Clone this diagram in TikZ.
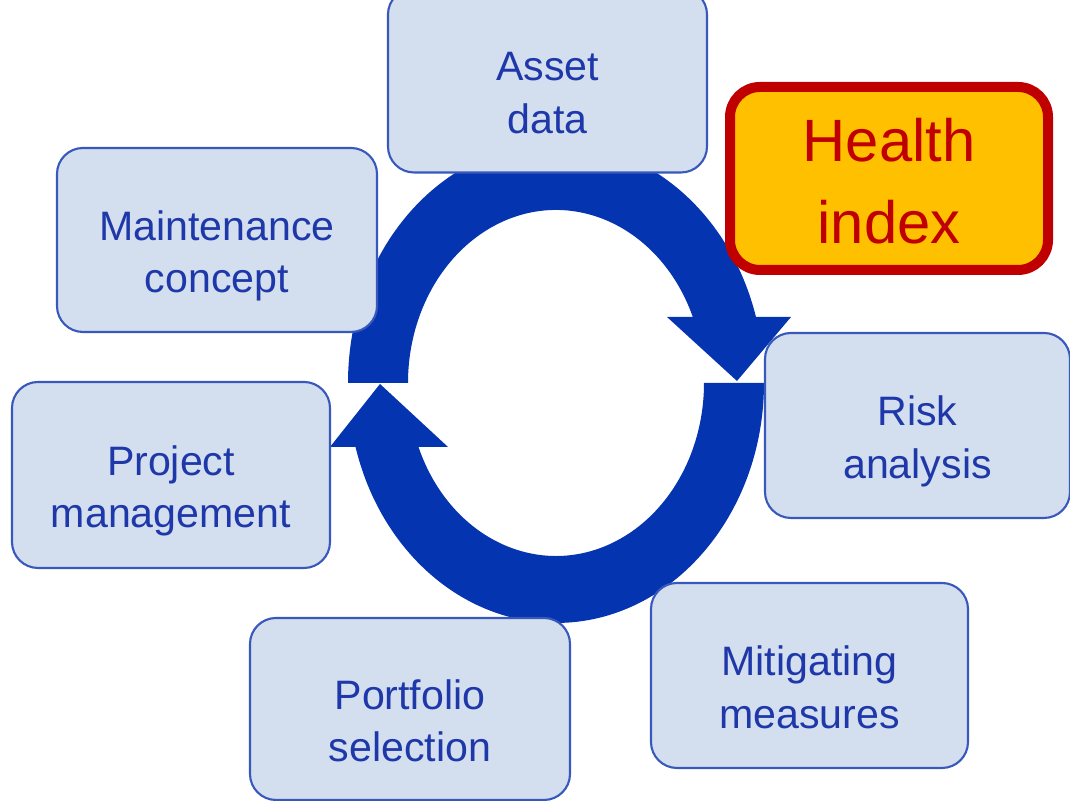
\documentclass[tikz,border=0pt]{standalone}
\usepackage{fontspec}
\setmainfont{Liberation Sans}
\usepackage{xcolor}
\usetikzlibrary{calc}
\definecolor{ringblue}{HTML}{0534B0}
\definecolor{boxfill}{HTML}{D3DEEE}
\definecolor{boxline}{HTML}{3858BC}
\definecolor{boxtext}{HTML}{1E38AA}
\definecolor{hifill}{HTML}{FFC000}
\definecolor{hired}{HTML}{C00000}
\tikzset{
  stage/.style={draw=boxline, line width=0.6pt, fill=boxfill, rounded corners=0.26cm,
    text=boxtext, align=center, font=\fontsize{11.7}{15}\selectfont,
    text height=1.15cm, text depth=0.09cm},
  hstage/.style={draw=hired, line width=0.1cm, fill=hifill, rounded corners=0.3cm,
    text=hired, align=center, font=\fontsize{17}{23.2}\selectfont,
    text height=1.30cm, text depth=0cm}
}

\begin{document}
\begin{tikzpicture}
            \useasboundingbox (0,0) rectangle (10.70,8.01);
            \coordinate (c) at (5.56,4.18);
            % upper arrow, left to right over the top
            \fill[ringblue] (c) ++(180:2.08 and 2.40)
                arc[start angle=180, end angle=15.96, x radius=2.08, y radius=2.40]
                -- (7.91,4.84) -- (7.37,4.20) -- (6.67,4.84)
                -- ($(c)+(22.43:1.48 and 1.73)$)
                arc[start angle=22.43, end angle=180, x radius=1.48, y radius=1.73] -- cycle;
            % lower arrow, right to left under the bottom
            \fill[ringblue] (c) ++(0:2.08 and 2.40)
                arc[start angle=0, end angle=-164.53, x radius=2.08, y radius=2.40]
                -- (3.30,3.54) -- (3.80,4.17) -- (4.48,3.54)
                -- ($(c)+(-158.3:1.48 and 1.73)$)
                arc[start angle=-158.3, end angle=0, x radius=1.48, y radius=1.73] -- cycle;
            \node[stage, minimum width=3.19cm, minimum height=1.84cm] at (5.475,7.205) (asset) {Asset\\data};
            \node[hstage, minimum width=3.18cm, minimum height=1.83cm] at (8.89,6.225) (health) {Health\\index};
            \node[stage, minimum width=3.20cm, minimum height=1.84cm] at (2.17,5.61) (maint) {Maintenance\\concept};
            \node[stage, minimum width=3.05cm, minimum height=1.85cm] at (9.175,3.755) (risk) {Risk\\analysis};
            \node[stage, minimum width=3.18cm, minimum height=1.86cm] at (1.71,3.26) (project) {Project\\management};
            \node[stage, minimum width=3.17cm, minimum height=1.85cm] at (8.095,1.255) (mitig) {Mitigating\\measures};
            \node[stage, minimum width=3.20cm, minimum height=1.82cm] at (4.10,0.92) (portf) {Portfolio\\selection};
        \end{tikzpicture}
\end{document}
